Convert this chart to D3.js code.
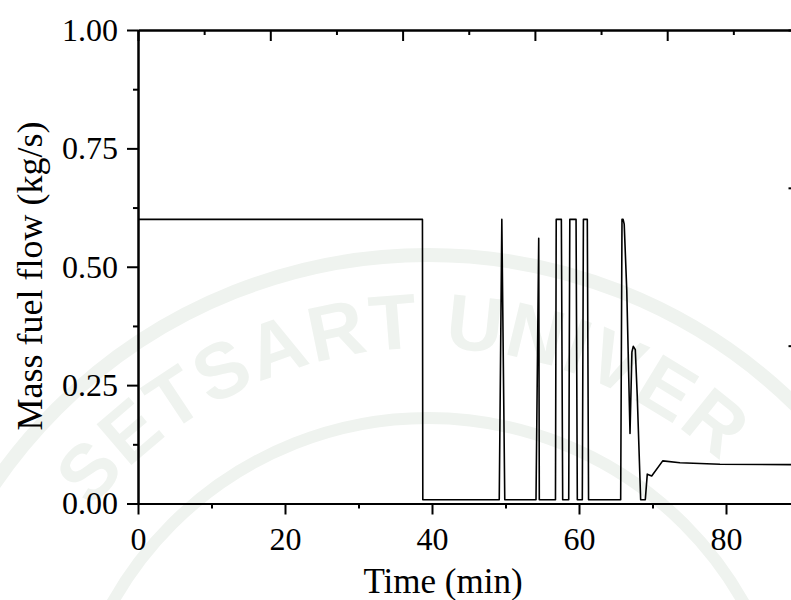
<!DOCTYPE html>
<html>
<head>
<meta charset="utf-8">
<script src="https://cdn.jsdelivr.net/npm/d3@7"></script>
<style>
  html, body { margin: 0; padding: 0; background: #ffffff; }
  svg { display: block; }
  .tick text { font-family: "Liberation Serif", "Times New Roman", serif; fill: #000; }
</style>
</head>
<body>
<svg id="chart" width="791" height="600"></svg>
<script>
// Mass fuel flow over time
const timeMin = [0, 38.7, 38.75, 49.15, 49.5, 49.9, 54.15, 54.52, 54.6, 56.8, 56.9, 57.6, 57.78,
  58.6, 58.75, 59.6, 59.77, 60.45, 60.6, 61.13, 61.3, 65.67, 65.85, 66.0, 66.15, 66.5, 66.94,
  67.2, 67.39, 67.66, 67.93, 68.39, 69.02, 69.29, 69.89, 71.39, 73.74, 79.18, 90];
const fuelFlow = [0.60, 0.60, 0.008, 0.008, 0.60, 0.008, 0.008, 0.56, 0.008, 0.008, 0.60, 0.60, 0.008,
  0.008, 0.60, 0.60, 0.008, 0.008, 0.60, 0.60, 0.008, 0.008, 0.60, 0.60, 0.59, 0.45, 0.148,
  0.32, 0.332, 0.325, 0.225, 0.008, 0.008, 0.062, 0.058, 0.090, 0.086, 0.083, 0.082];

const xMajorTicks = [0, 20, 40, 60, 80];
const xMinorTicks = [10, 30, 50, 70, 90];
const yMajorTicks = [0, 0.25, 0.5, 0.75, 1.0];
const yMinorTicks = [0.125, 0.375, 0.625, 0.875];
const topMajorTicks = [0, 20, 40, 60, 80, 100];
const topMinorTicks = [10, 30, 50, 70, 90];
const rightMajorTicks = [0, 0.5, 1.0, 1.5];

const xLabel = "Time (min)";
const yLabel = "Mass fuel flow (kg/s)";
const sealText = "KASETSART UNIVERSITY";

const W = 791, H = 600;
const svg = d3.select("#chart");
const plotL = 138, plotR = 799.5, plotT = 30, plotB = 503.5;

const x = d3.scaleLinear().domain([0, 90]).range([plotL, plotR]);
const y = d3.scaleLinear().domain([0, 1]).range([plotB, plotT]);
const xTop = d3.scaleLinear().domain([0, 100]).range([plotL, plotR]);
const yRight = d3.scaleLinear().domain([0, 1.5]).range([plotB, plotT]);

// faint seal in the background: two rings and lettering along an arc
const sealColor = "#eff3ef";
const cx = 428, cy = 780;
const seal = svg.append("g").attr("fill", "none").attr("stroke", sealColor);
seal.append("circle").attr("cx", cx).attr("cy", cy).attr("r", 525).attr("stroke-width", 14);
seal.append("circle").attr("cx", cx).attr("cy", cy).attr("r", 362).attr("stroke-width", 12);

const arcR = 432;
const sealFont = { family: "Liberation Sans, Arial, sans-serif", size: 78, spacing: 2 };
const measure = svg.append("text")
  .attr("font-family", sealFont.family).attr("font-weight", "bold")
  .attr("font-size", sealFont.size).attr("visibility", "hidden");
const widths = sealText.split("").map(ch => {
  measure.text(ch === " " ? "\u00a0" : ch);
  return measure.node().getComputedTextLength();
});
measure.remove();
const total = d3.sum(widths) + sealFont.spacing * (widths.length - 1);
let run = -total / 2;
const letters = svg.append("g").attr("fill", sealColor)
  .attr("font-family", sealFont.family).attr("font-weight", "bold")
  .attr("font-size", sealFont.size);
sealText.split("").forEach((ch, i) => {
  const mid = run + widths[i] / 2;
  run += widths[i] + sealFont.spacing;
  if (ch === " ") return;
  const a = mid / arcR;
  const t = letters.append("text")
    .attr("text-anchor", "middle")
    .attr("transform", `translate(${cx + arcR * Math.sin(a)},${cy - arcR * Math.cos(a)}) rotate(${a * 180 / Math.PI})`)
    .text(ch);
  // only letters that sit wholly inside the drawing are kept
  const b = t.node().getBoundingClientRect();
  if (b.left < 0 || b.right > W || b.top < 0 || b.bottom > H) t.remove();
});

const fontSize = 32;

function styleAxis(g) {
  g.select(".domain").attr("stroke", "#000").attr("stroke-width", 2);
  g.selectAll(".tick line").attr("stroke", "#000").attr("stroke-width", 2);
  g.selectAll(".tick text").attr("font-size", fontSize);
}

// bottom axis
svg.append("g").attr("transform", `translate(0,${plotB})`)
  .call(d3.axisBottom(x).tickValues(xMinorTicks).tickSize(5).tickSizeOuter(0).tickFormat(""))
  .call(styleAxis);
svg.append("g").attr("transform", `translate(0,${plotB})`)
  .call(d3.axisBottom(x).tickValues(xMajorTicks).tickSize(11).tickSizeOuter(0).tickPadding(13).tickFormat(d3.format("d")))
  .call(styleAxis);

// left axis
svg.append("g").attr("transform", `translate(${plotL},0)`)
  .call(d3.axisLeft(y).tickValues(yMinorTicks).tickSize(5).tickSizeOuter(0).tickFormat(""))
  .call(styleAxis);
svg.append("g").attr("transform", `translate(${plotL},0)`)
  .call(d3.axisLeft(y).tickValues(yMajorTicks).tickSize(11).tickSizeOuter(0).tickPadding(9).tickFormat(d3.format(".2f")))
  .call(styleAxis);

// top mirror axis, ticks inside
svg.append("g").attr("transform", `translate(0,${plotT})`)
  .call(d3.axisBottom(xTop).tickValues(topMinorTicks).tickSize(5).tickSizeOuter(0).tickFormat(""))
  .call(styleAxis);
svg.append("g").attr("transform", `translate(0,${plotT})`)
  .call(d3.axisBottom(xTop).tickValues(topMajorTicks).tickSize(11).tickSizeOuter(0).tickFormat(""))
  .call(styleAxis);

// right mirror axis, ticks inside
svg.append("g").attr("transform", `translate(${plotR},0)`)
  .call(d3.axisLeft(yRight).tickValues(rightMajorTicks).tickSize(11).tickSizeOuter(0).tickFormat(""))
  .call(styleAxis);

// data line
const pts = timeMin.map((t, i) => [t, fuelFlow[i]]);
svg.append("path")
  .datum(pts)
  .attr("fill", "none").attr("stroke", "#000").attr("stroke-width", 1.6)
  .attr("stroke-linejoin", "round")
  .attr("d", d3.line().x(d => x(d[0])).y(d => y(d[1])));

// axis titles
svg.append("text")
  .attr("x", 443).attr("y", 593)
  .attr("text-anchor", "middle")
  .attr("font-family", "Liberation Serif, Times New Roman, serif")
  .attr("font-size", 35)
  .text(xLabel);

svg.append("text")
  .attr("transform", "translate(42,276) rotate(-90)")
  .attr("text-anchor", "middle")
  .attr("font-family", "Liberation Serif, Times New Roman, serif")
  .attr("font-size", 36)
  .text(yLabel);
</script>
</body>
</html>
